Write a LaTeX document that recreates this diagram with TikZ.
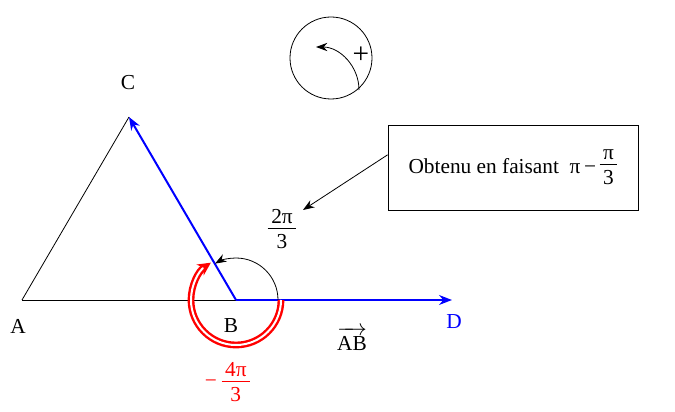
\documentclass[tikz,border=0pt]{standalone}
\usepackage{fontspec}
\setmainfont{Liberation Serif}
\usetikzlibrary{arrows.meta, positioning, calc}
\tikzset{
  lbl/.style   = {font=\fontsize{16}{18}\selectfont, inner sep=1pt},
  vec/.style   = {-{Stealth[length=3.4mm, width=2.6mm]}, blue, line width=1.5pt},
  fleche/.style = {-{Stealth[length=3mm, width=2.2mm]}, semithick},
  rouge/.style = {red, double, line width=1.8pt, double distance=1.5pt},
  cadre/.style = {draw, semithick, lbl, minimum width=187.5pt, minimum height=63.75pt},
}
\newcommand{\frc}[2]{\begin{tabular}{@{\,}c@{\,}}#1\\[-2pt]\hline\rule{0pt}{15pt}#2\end{tabular}}

\begin{document}
\begin{tikzpicture}[x=0.75pt, y=0.75pt]
    \useasboundingbox (0,0) rectangle (675,411);

    % triangle
    \coordinate (A) at (22,111);
    \coordinate (B) at (236,111);
    \coordinate (C) at (129,294);
    \coordinate (D) at (452,111);
    \draw[semithick] (A) -- (C);
    \draw[semithick] (A) -- (B);
    \draw[vec] (B) -- (C);
    \draw[vec] (B) -- (D);

    \node[lbl] (lA) at (18,85) {A};
    \node[lbl] (lB) at (231,85) {B};
    \node[lbl] (lC) at (128,328) {C};
    \node[lbl, blue] (lD) at (454,89) {D};
    \node[lbl] (lAB) at (352,72) {$\overrightarrow{\mbox{AB}\rule{0pt}{12.5pt}}$};

    % angles
    \draw[fleche] ($(B)+(42,0)$) arc (0:120:42);
    \draw[rouge, -{Stealth[length=3.4mm, width=3.4mm]}] ($(B)+(45,0)$) arc (0:-236:45);

    \node[lbl] (deuxpi) at (282,180) {\frc{2π}{3}};
    \node[lbl, red] (moins) at (211,27) {−};
    \node[lbl, red, right=1pt of moins] (quatrepi) {\frc{4π}{3}};

    % explication
    \node[cadre] (obt) at (513,243.5) {Obtenu en faisant~ π\,−\,\frc{π}{3}};
    \coordinate (pointe) at (303,201);
    \draw[fleche] ([yshift=9.5pt]obt.west) -- (pointe);

    % sens direct
    \node[draw, semithick, circle, minimum size=61.5pt] (sens) at (331,353) {};
    \coordinate (dep) at (359,321);
    \draw[fleche] (dep) arc (0:90:43);
    \node[lbl, font=\fontsize{22}{22}\selectfont] (plus) at (361,356) {+};
\end{tikzpicture}
\end{document}
